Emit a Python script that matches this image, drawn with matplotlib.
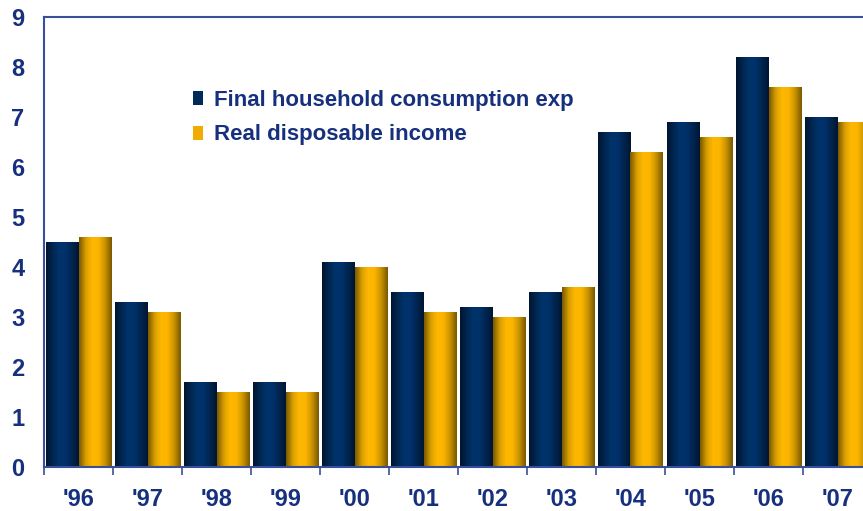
import numpy as np
import matplotlib.pyplot as plt
from matplotlib.colors import LinearSegmentedColormap
from matplotlib.patches import Patch

years = ["'96", "'97", "'98", "'99", "'00", "'01", "'02", "'03", "'04", "'05", "'06", "'07"]
consumption = [4.5, 3.3, 1.7, 1.7, 4.1, 3.5, 3.2, 3.5, 6.7, 6.9, 8.2, 7.0]
income = [4.6, 3.1, 1.5, 1.5, 4.0, 3.1, 3.0, 3.6, 6.3, 6.6, 7.6, 6.9]

label_color = "#16307E"
spine_color = "#3A4F9A"

# cylinder-like shading, dark edges, light middle
navy_cmap = LinearSegmentedColormap.from_list(
    "navy", ["#001530", "#002650", "#00336B", "#00316A", "#00244E", "#001633"])
gold_cmap = LinearSegmentedColormap.from_list(
    "gold", ["#7A5A00", "#D89E00", "#FFB800", "#FBB400", "#C89200", "#7A5800"])

plt.rcParams["font.family"] = ["Liberation Sans", "DejaVu Sans"]

fig = plt.figure(figsize=(8.63, 5.11), dpi=100)
ax = fig.add_axes([44 / 863, 1 - 467 / 511, 828 / 863, 450 / 511])

x = np.arange(len(years))
w = 0.47
grad = np.linspace(0, 1, 64).reshape(1, -1)


def gradient_bars(xs, vals, cmap):
    bars = ax.bar(xs, vals, width=w, color="none", edgecolor="none")
    for b in bars:
        x0, y0 = b.get_x(), b.get_y()
        ax.imshow(grad, cmap=cmap, aspect="auto", interpolation="bicubic",
                  extent=(x0, x0 + b.get_width(), y0, y0 + b.get_height()),
                  zorder=2)


gradient_bars(x - w / 2, consumption, navy_cmap)
gradient_bars(x + w / 2, income, gold_cmap)

ax.set_xlim(-0.5, len(years) - 0.5)
ax.set_ylim(0, 9)

ax.set_yticks(range(0, 10))
ax.set_xticks(x)
ax.set_xticklabels(years)
ax.set_xticks(np.arange(-0.5, len(years)), minor=True)
ax.tick_params(axis="y", length=0, pad=14, labelsize=17, labelcolor=label_color)
ax.tick_params(axis="x", which="major", length=0, pad=15, labelsize=17,
               labelcolor=label_color)
ax.tick_params(axis="x", which="minor", length=6, width=1.2, color=spine_color,
               direction="out")
for lbl in ax.get_xticklabels() + ax.get_yticklabels():
    lbl.set_fontweight("bold")

ax.spines["right"].set_visible(False)
for s in ["left", "bottom", "top"]:
    ax.spines[s].set_color(spine_color)
    ax.spines[s].set_linewidth(1.5)

handles = [Patch(facecolor="#002A5A", label="Final household consumption exp"),
           Patch(facecolor="#F0AC00", label="Real disposable income")]
leg = ax.legend(handles=handles, loc="upper left", bbox_to_anchor=(0.156, 0.882),
                frameon=False, prop={"size": 16, "weight": "bold"},
                handlelength=0.45, handleheight=0.6, handletextpad=0.5,
                labelspacing=0.6)
for t in leg.get_texts():
    t.set_color(label_color)

fig.savefig("out.png", dpi=100)
